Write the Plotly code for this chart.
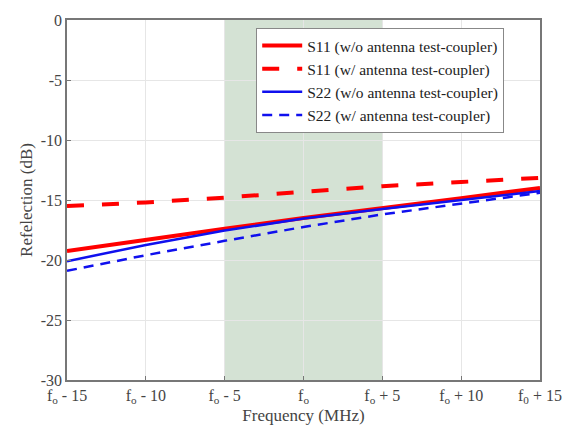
import plotly.graph_objects as go

freq = [-15, -10, -5, 0, 5, 10, 15]
s11_wo = [-19.25, -18.3, -17.4, -16.5, -15.7, -14.85, -14.0]
s11_w = [-15.5, -15.2, -14.8, -14.35, -13.85, -13.5, -13.15]
s22_wo = [-20.1, -18.75, -17.55, -16.55, -15.75, -15.0, -14.25]
s22_w = [-20.9, -19.6, -18.4, -17.25, -16.2, -15.3, -14.4]
band = [-5, 5]
x_tick_vals = [-15, -10, -5, 0, 5, 10, 15]
x_tick_text = ["f<sub>o</sub> - 15", "f<sub>o</sub> - 10", "f<sub>o</sub> - 5", "f<sub>o</sub>",
               "f<sub>o</sub> + 5", "f<sub>o</sub> + 10", "f<sub>0</sub> + 15"]
y_tick_vals = [0, -5, -10, -15, -20, -25, -30]
y_tick_text = ["0", "-5", "-10", "-15", "-20", "-25", "-30"]

fig = go.Figure()
fig.add_vrect(x0=band[0], x1=band[1], fillcolor="rgba(160,190,160,0.45)", line_width=0, layer="below")
fig.add_trace(go.Scatter(x=freq, y=s11_wo, mode="lines", name="S11 (w/o antenna test-coupler)",
                         line=dict(color="#ff0000", width=4)))
fig.add_trace(go.Scatter(x=freq, y=s11_w, mode="lines", name="S11 (w/ antenna test-coupler)",
                         line=dict(color="#ff0000", width=4, dash="17px,18px")))
fig.add_trace(go.Scatter(x=freq, y=s22_wo, mode="lines", name="S22 (w/o antenna test-coupler)",
                         line=dict(color="#1010ee", width=2.5)))
fig.add_trace(go.Scatter(x=freq, y=s22_w, mode="lines", name="S22 (w/ antenna test-coupler)",
                         line=dict(color="#1010ee", width=2.5, dash="10px,7px")))

font = "Liberation Serif"
fig.update_layout(
    width=574, height=442,
    margin=dict(l=67, r=32, t=15, b=62),
    paper_bgcolor="white", plot_bgcolor="white",
    font=dict(family=font, size=16, color="#444444"),
    showlegend=True,
    legend=dict(x=0.4, y=0.978, xanchor="left", yanchor="top",
                bgcolor="white", bordercolor="#888888", borderwidth=1,
                font=dict(family=font, size=15.5, color="#222222"),
                tracegroupgap=0, itemwidth=40),
    xaxis=dict(range=[-15, 15], tickvals=x_tick_vals, ticktext=x_tick_text,
               tickfont=dict(family=font, size=16),
               showgrid=True, gridcolor="#e6e6e6", zeroline=False,
               showline=True, linecolor="#777777", linewidth=1.5, mirror=True,
               ticks="inside", ticklen=4, tickcolor="#777777",
               title=dict(text="Frequency (MHz)", font=dict(family=font, size=17), standoff=2)),
    yaxis=dict(range=[-30, 0], tickvals=y_tick_vals, ticktext=y_tick_text,
               tickfont=dict(family=font, size=16),
               showgrid=True, gridcolor="#e6e6e6", zeroline=False,
               showline=True, linecolor="#777777", linewidth=1.5, mirror=True,
               ticks="inside", ticklen=4, tickcolor="#777777",
               title=dict(text="Refelection (dB)", font=dict(family=font, size=17), standoff=4)),
)
fig.write_html("out.html")
